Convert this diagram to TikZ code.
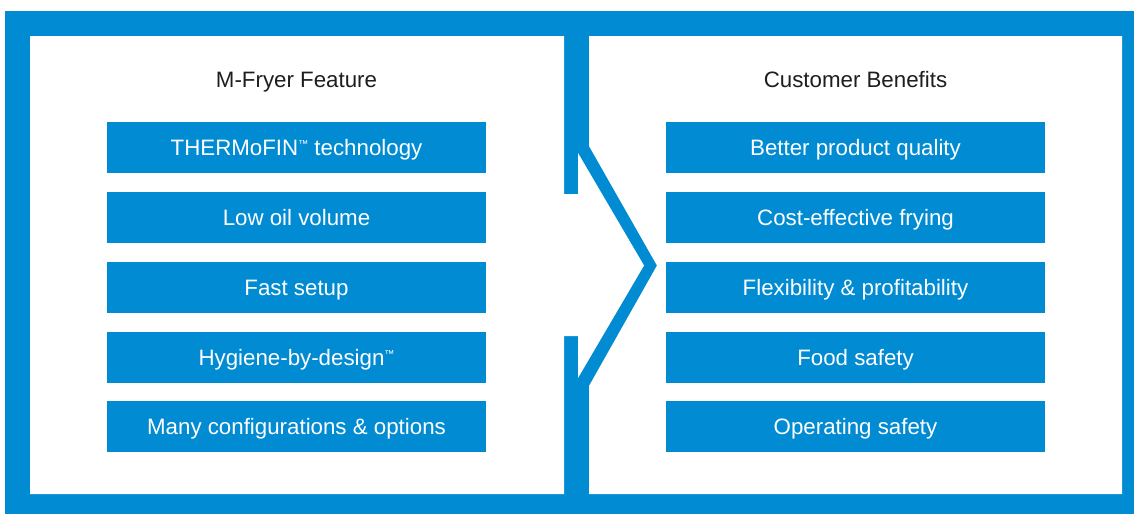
\documentclass[tikz,border=0pt]{standalone}
\usepackage{fontspec}
\setmainfont{Liberation Sans}
\definecolor{brandblue}{HTML}{008BD2}
\definecolor{titlegray}{HTML}{1E1E1E}
\newcommand{\tmmark}{\raisebox{8pt}{\fontsize{10}{10}\selectfont ™}}
\begin{document}
\begin{tikzpicture}[x=1pt,y=-1pt,
  featbox/.style={fill=brandblue, text=white, minimum width=379pt, minimum height=51pt,
    inner sep=0pt, text height=16pt, text depth=0pt,
    font=\fontsize{22.3}{27}\selectfont},
  paneltitle/.style={anchor=base, text=titlegray, inner sep=0pt,
    font=\fontsize{22.3}{27}\selectfont}]
\useasboundingbox (0,0) rectangle (1134,514);
% outer blue frame
\fill[brandblue] (5,11) rectangle (1134,514);
% left white panel with notch
\fill[white] (30,36) -- (564,36) -- (564,194) -- (578,194) -- (578,153) -- (644,265.5)
  -- (578,378) -- (578,336) -- (564,336) -- (564,494) -- (30,494) -- cycle;
% right white panel with chevron
\fill[white] (589,36) -- (1122,36) -- (1122,494) -- (589,494) -- (589,386)
  -- (657,265.5) -- (589,146) -- cycle;
% titles
\node[paneltitle] (tf) at (296.5,87) {M-Fryer Feature};
\node[paneltitle] (tb) at (855.5,87) {Customer Benefits};
% feature boxes
\node[featbox] (f1) at (296.5,147.5) {THERMoFIN\tmmark\ technology};
\node[featbox] (f2) at (296.5,217.5) {Low oil volume};
\node[featbox] (f3) at (296.5,287.5) {Fast setup};
\node[featbox] (f4) at (296.5,357.5) {Hygiene-by-design\tmmark};
\node[featbox] (f5) at (296.5,426.5) {Many configurations \& options};
% benefit boxes
\node[featbox] (b1) at (855.5,147.5) {Better product quality};
\node[featbox] (b2) at (855.5,217.5) {Cost-effective frying};
\node[featbox] (b3) at (855.5,287.5) {Flexibility \& profitability};
\node[featbox] (b4) at (855.5,357.5) {Food safety};
\node[featbox] (b5) at (855.5,426.5) {Operating safety};
\end{tikzpicture}
\end{document}
